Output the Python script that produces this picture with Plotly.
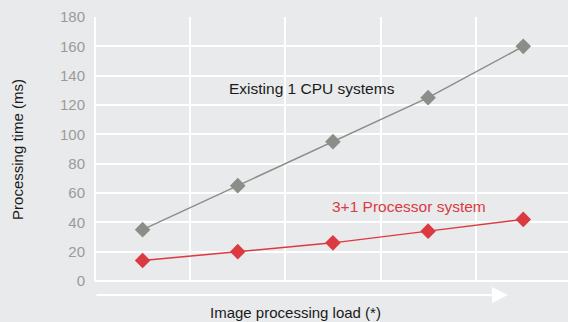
import plotly.graph_objects as go

# processing load steps (category centres) and measured times
load_steps = [0.5, 1.5, 2.5, 3.5, 4.5]
existing_cpu = [35, 65, 95, 125, 160]
multi_proc = [14, 20, 26, 34, 42]

y_ticks = [0, 20, 40, 60, 80, 100, 120, 140, 160, 180]

FONT = "Liberation Sans, Arial, Helvetica, sans-serif"
BG = "#e9eaec"
GREY = "#8c8d89"
RED = "#db3a41"

fig = go.Figure()
fig.add_trace(go.Scatter(
    x=load_steps, y=existing_cpu, mode="lines+markers",
    line=dict(color=GREY, width=1.5),
    marker=dict(symbol="diamond", size=12, color=GREY),
    name="Existing 1 CPU systems"
))
fig.add_trace(go.Scatter(
    x=load_steps, y=multi_proc, mode="lines+markers",
    line=dict(color=RED, width=1.5),
    marker=dict(symbol="diamond", size=12, color=RED),
    name="3+1 Processor system"
))

# in-plot labels
fig.add_annotation(x=2.28, y=131, text="Existing 1 CPU systems", showarrow=False,
                   font=dict(family=FONT, size=15.5, color="#1a1a1a"))
fig.add_annotation(x=3.30, y=51, text="3+1 Processor system", showarrow=False,
                   font=dict(family=FONT, size=15.5, color=RED))

# axis titles
fig.add_annotation(xref="paper", yref="paper", x=0.423, y=-0.121, text="Image processing load (*)",
                   showarrow=False, yanchor="middle", font=dict(family=FONT, size=15, color="#1a1a1a"))
fig.add_annotation(xref="paper", yref="paper", x=-0.165, y=0.5, text="Processing time (ms)",
                   textangle=-90, showarrow=False, xanchor="center",
                   font=dict(family=FONT, size=15, color="#1a1a1a"))

# white arrow under the plot
fig.add_annotation(xref="paper", yref="paper", axref="pixel", ayref="pixel",
                   x=0.873, y=-0.053, ax=-413, ay=0, text="", showarrow=True,
                   arrowhead=2, arrowsize=1.6, arrowwidth=2, arrowcolor="white")

fig.update_layout(
    width=568, height=322,
    margin=dict(l=95, r=0, t=17, b=41),
    paper_bgcolor=BG, plot_bgcolor=BG,
    showlegend=False,
    font=dict(family=FONT, size=15)
)
fig.update_xaxes(range=[0, 4.97], tick0=0, dtick=1, showticklabels=False,
                 showgrid=True, gridcolor="white", gridwidth=1.5,
                 zeroline=True, zerolinecolor="white", zerolinewidth=1.5, showline=False)
fig.update_yaxes(range=[0, 180], tickvals=y_ticks, ticklabelstandoff=9,
                 tickfont=dict(color="#9a9a9a", size=15, family=FONT),
                 showgrid=True, gridcolor="white", gridwidth=1.5,
                 zeroline=True, zerolinecolor="white", zerolinewidth=1.5, showline=False)

fig.write_html("out.html", config={"displayModeBar": False},
               post_script="document.body.style.margin='0';document.body.style.background='%s';" % BG)
